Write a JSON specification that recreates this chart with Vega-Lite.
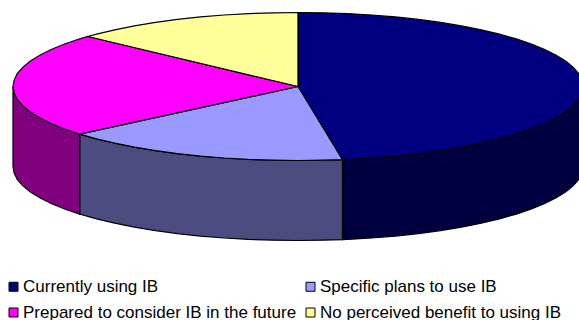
{
"$schema":"https://vega.github.io/schema/vega-lite/v6.json",
"width":579,"height":320,"padding":0,"autosize":{"type":"none"},
"background":"white",
"view":{"stroke":null},
"datasets":{"pie":[
{"slice":"Currently using IB","angle":-91,"x":0,"y":0},
{"slice":"Currently using IB","angle":-90,"x":0,"y":-100},
{"slice":"Currently using IB","angle":-85,"x":8.7,"y":-99.6},
{"slice":"Currently using IB","angle":-80,"x":17.4,"y":-98.5},
{"slice":"Currently using IB","angle":-75,"x":25.9,"y":-96.6},
{"slice":"Currently using IB","angle":-70,"x":34.2,"y":-94},
{"slice":"Currently using IB","angle":-65,"x":42.3,"y":-90.6},
{"slice":"Currently using IB","angle":-60,"x":50,"y":-86.6},
{"slice":"Currently using IB","angle":-55,"x":57.4,"y":-81.9},
{"slice":"Currently using IB","angle":-50,"x":64.3,"y":-76.6},
{"slice":"Currently using IB","angle":-45,"x":70.7,"y":-70.7},
{"slice":"Currently using IB","angle":-40,"x":76.6,"y":-64.3},
{"slice":"Currently using IB","angle":-35,"x":81.9,"y":-57.4},
{"slice":"Currently using IB","angle":-30,"x":86.6,"y":-50},
{"slice":"Currently using IB","angle":-25,"x":90.6,"y":-42.3},
{"slice":"Currently using IB","angle":-20,"x":94,"y":-34.2},
{"slice":"Currently using IB","angle":-15,"x":96.6,"y":-25.9},
{"slice":"Currently using IB","angle":-10,"x":98.5,"y":-17.4},
{"slice":"Currently using IB","angle":-5,"x":99.6,"y":-8.7},
{"slice":"Currently using IB","angle":0,"x":100,"y":0,"floor":108.1},
{"slice":"Currently using IB","angle":5,"x":99.6,"y":8.7,"floor":116.8},
{"slice":"Currently using IB","angle":10,"x":98.5,"y":17.4,"floor":125.5},
{"slice":"Currently using IB","angle":15,"x":96.6,"y":25.9,"floor":134},
{"slice":"Currently using IB","angle":20,"x":94,"y":34.2,"floor":142.3},
{"slice":"Currently using IB","angle":25,"x":90.6,"y":42.3,"floor":150.4},
{"slice":"Currently using IB","angle":30,"x":86.6,"y":50,"floor":158.1},
{"slice":"Currently using IB","angle":35,"x":81.9,"y":57.4,"floor":165.5},
{"slice":"Currently using IB","angle":40,"x":76.6,"y":64.3,"floor":172.4},
{"slice":"Currently using IB","angle":45,"x":70.7,"y":70.7,"floor":178.8},
{"slice":"Currently using IB","angle":50,"x":64.3,"y":76.6,"floor":184.7},
{"slice":"Currently using IB","angle":55,"x":57.4,"y":81.9,"floor":190},
{"slice":"Currently using IB","angle":60,"x":50,"y":86.6,"floor":194.7},
{"slice":"Currently using IB","angle":65,"x":42.3,"y":90.6,"floor":198.7},
{"slice":"Currently using IB","angle":70,"x":34.2,"y":94,"floor":202.1},
{"slice":"Currently using IB","angle":75,"x":25.9,"y":96.6,"floor":204.7},
{"slice":"Currently using IB","angle":80,"x":17.4,"y":98.5,"floor":206.6},
{"slice":"Currently using IB","angle":81,"x":15.6,"y":98.8,"floor":206.9},
{"slice":"Currently using IB","angle":82,"x":0,"y":0},
{"slice":"Currently using IB","angle":83,"x":0,"y":-100},
{"slice":"Specific plans to use IB","angle":80,"x":0,"y":0},
{"slice":"Specific plans to use IB","angle":81,"x":15.6,"y":98.8,"floor":206.9},
{"slice":"Specific plans to use IB","angle":85,"x":8.7,"y":99.6,"floor":207.7},
{"slice":"Specific plans to use IB","angle":90,"x":0,"y":100,"floor":208.1},
{"slice":"Specific plans to use IB","angle":95,"x":-8.7,"y":99.6,"floor":207.7},
{"slice":"Specific plans to use IB","angle":100,"x":-17.4,"y":98.5,"floor":206.6},
{"slice":"Specific plans to use IB","angle":105,"x":-25.9,"y":96.6,"floor":204.7},
{"slice":"Specific plans to use IB","angle":110,"x":-34.2,"y":94,"floor":202.1},
{"slice":"Specific plans to use IB","angle":115,"x":-42.3,"y":90.6,"floor":198.7},
{"slice":"Specific plans to use IB","angle":120,"x":-50,"y":86.6,"floor":194.7},
{"slice":"Specific plans to use IB","angle":125,"x":-57.4,"y":81.9,"floor":190},
{"slice":"Specific plans to use IB","angle":130,"x":-64.3,"y":76.6,"floor":184.7},
{"slice":"Specific plans to use IB","angle":135,"x":-70.7,"y":70.7,"floor":178.8},
{"slice":"Specific plans to use IB","angle":140,"x":-76.6,"y":64.3,"floor":172.4},
{"slice":"Specific plans to use IB","angle":141,"x":0,"y":0},
{"slice":"Prepared to consider IB in the future","angle":139,"x":0,"y":0},
{"slice":"Prepared to consider IB in the future","angle":140,"x":-76.6,"y":64.3,"floor":172.4},
{"slice":"Prepared to consider IB in the future","angle":145,"x":-81.9,"y":57.4,"floor":165.5},
{"slice":"Prepared to consider IB in the future","angle":150,"x":-86.6,"y":50,"floor":158.1},
{"slice":"Prepared to consider IB in the future","angle":155,"x":-90.6,"y":42.3,"floor":150.4},
{"slice":"Prepared to consider IB in the future","angle":160,"x":-94,"y":34.2,"floor":142.3},
{"slice":"Prepared to consider IB in the future","angle":165,"x":-96.6,"y":25.9,"floor":134},
{"slice":"Prepared to consider IB in the future","angle":170,"x":-98.5,"y":17.4,"floor":125.5},
{"slice":"Prepared to consider IB in the future","angle":175,"x":-99.6,"y":8.7,"floor":116.8},
{"slice":"Prepared to consider IB in the future","angle":180,"x":-100,"y":0,"floor":108.1},
{"slice":"Prepared to consider IB in the future","angle":185,"x":-99.6,"y":-8.7},
{"slice":"Prepared to consider IB in the future","angle":190,"x":-98.5,"y":-17.4},
{"slice":"Prepared to consider IB in the future","angle":195,"x":-96.6,"y":-25.9},
{"slice":"Prepared to consider IB in the future","angle":200,"x":-94,"y":-34.2},
{"slice":"Prepared to consider IB in the future","angle":205,"x":-90.6,"y":-42.3},
{"slice":"Prepared to consider IB in the future","angle":210,"x":-86.6,"y":-50},
{"slice":"Prepared to consider IB in the future","angle":215,"x":-81.9,"y":-57.4},
{"slice":"Prepared to consider IB in the future","angle":220,"x":-76.6,"y":-64.3},
{"slice":"Prepared to consider IB in the future","angle":222.5,"x":-73.7,"y":-67.6},
{"slice":"Prepared to consider IB in the future","angle":223,"x":0,"y":0},
{"slice":"No perceived benefit to using IB","angle":222,"x":0,"y":0},
{"slice":"No perceived benefit to using IB","angle":222.5,"x":-73.7,"y":-67.6},
{"slice":"No perceived benefit to using IB","angle":225,"x":-70.7,"y":-70.7},
{"slice":"No perceived benefit to using IB","angle":230,"x":-64.3,"y":-76.6},
{"slice":"No perceived benefit to using IB","angle":235,"x":-57.4,"y":-81.9},
{"slice":"No perceived benefit to using IB","angle":240,"x":-50,"y":-86.6},
{"slice":"No perceived benefit to using IB","angle":245,"x":-42.3,"y":-90.6},
{"slice":"No perceived benefit to using IB","angle":250,"x":-34.2,"y":-94},
{"slice":"No perceived benefit to using IB","angle":255,"x":-25.9,"y":-96.6},
{"slice":"No perceived benefit to using IB","angle":260,"x":-17.4,"y":-98.5},
{"slice":"No perceived benefit to using IB","angle":265,"x":-8.7,"y":-99.6},
{"slice":"No perceived benefit to using IB","angle":270,"x":0,"y":-100},
{"slice":"No perceived benefit to using IB","angle":271,"x":0,"y":0}
]},
"data":{"name":"pie"},
"encoding":{
  "x":{"field":"x","type":"quantitative","axis":null,"scale":{"domain":[-104.56,98.6],"nice":false,"zero":false}},
  "y":{"field":"y","type":"quantitative","axis":null,"scale":{"domain":[-116.9,315.5],"nice":false,"zero":false,"reverse":true}}
},
"layer":[
  {
    "transform":[{"filter":"isValid(datum.floor)"}],
    "mark":{"type":"area","orient":"vertical","stroke":"black","strokeWidth":1.2,"clip":true},
    "encoding":{
      "y2":{"field":"floor"},
      "detail":{"field":"slice"},
      "fill":{"field":"slice","type":"nominal","legend":null,
        "scale":{"domain":["Currently using IB","Specific plans to use IB","Prepared to consider IB in the future"],"range":["#000040","#4c4c80","#800080"]}}
    }
  },
  {
    "mark":{"type":"line","stroke":"black","strokeWidth":1.2,"clip":true},
    "encoding":{
      "order":{"field":"angle","type":"quantitative"},
      "fill":{"field":"slice","type":"nominal",
        "scale":{"domain":["Currently using IB","Specific plans to use IB","Prepared to consider IB in the future","No perceived benefit to using IB"],"range":["#000080","#9999ff","#ff00ff","#ffff99"]},
        "legend":{"title":null,"orient":"none","direction":"horizontal","legendX":5,"legendY":278,"columns":2,"symbolType":"square","symbolSize":81,"symbolStrokeColor":"black","symbolStrokeWidth":1,"labelFont":"Liberation Sans","labelFontSize":17,"labelColor":"black","labelLimit":400,"labelOffset":1,"rowPadding":8,"columnPadding":5,"symbolOpacity":1}}
    }
  }
],
"resolve":{"scale":{"fill":"independent"}}
}
